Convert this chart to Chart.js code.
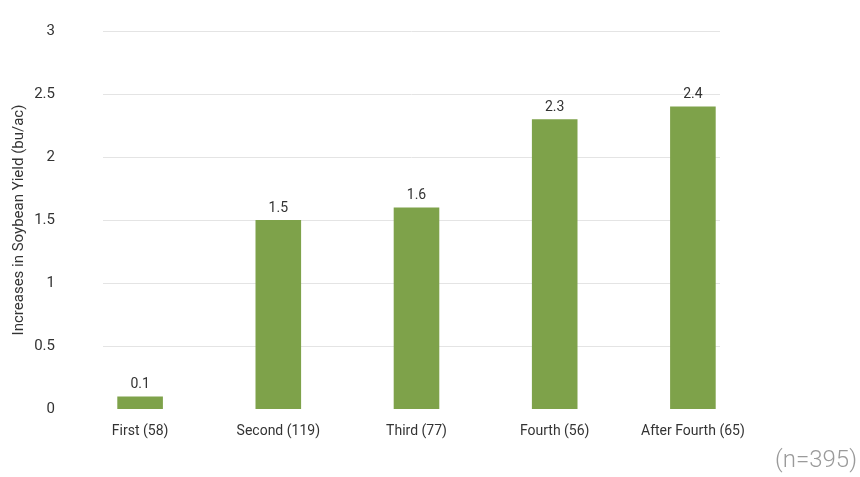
<!DOCTYPE html>
<html>
<head>
<meta charset="utf-8">
<script src="https://cdn.jsdelivr.net/npm/chart.js@4.4.1/dist/chart.umd.min.js"></script>
<style>
  html, body { margin: 0; padding: 0; background: #fff; }
  #wrap { position: relative; width: 860px; height: 477px; }
  #note { position: absolute; right: 3px; top: 445px; font: 300 24px Roboto, sans-serif; color: #9a9a9a; }
</style>
</head>
<body>
<div id="wrap">
  <canvas id="yieldChart" width="860" height="477"></canvas>
  <div id="note">(n=395)</div>
</div>
<script>
const categories = ['First (58)', 'Second (119)', 'Third (77)', 'Fourth (56)', 'After Fourth (65)'];
const yieldGain = [0.1, 1.5, 1.6, 2.3, 2.4];
const yTicks = [0, 0.5, 1, 1.5, 2, 2.5, 3];

const barColor = '#7ea24a';
const textColor = '#333';

// light horizontal rules, shorter than the plot area
const shortGrid = {
  id: 'shortGrid',
  beforeDatasetsDraw(chart) {
    const { ctx, scales: { y } } = chart;
    ctx.save();
    ctx.strokeStyle = '#e4e4e4';
    ctx.lineWidth = 1;
    yTicks.filter((v) => v > 0).forEach((v) => {
      const py = Math.round(y.getPixelForValue(v)) + 0.5;
      ctx.beginPath();
      ctx.moveTo(103, py);
      ctx.lineTo(720, py);
      ctx.stroke();
    });
    ctx.restore();
  }
};

// value printed over each bar
const barValues = {
  id: 'barValues',
  afterDatasetsDraw(chart) {
    const { ctx } = chart;
    const meta = chart.getDatasetMeta(0);
    ctx.save();
    ctx.font = '14px Roboto, sans-serif';
    ctx.fillStyle = textColor;
    ctx.textAlign = 'center';
    ctx.textBaseline = 'bottom';
    meta.data.forEach((bar, i) => {
      ctx.fillText(String(yieldGain[i]), bar.x, bar.y - 5);
    });
    ctx.restore();
  }
};

new Chart(document.getElementById('yieldChart'), {
  type: 'bar',
  data: {
    labels: categories,
    datasets: [{ data: yieldGain, backgroundColor: barColor, categoryPercentage: 1, barPercentage: 0.33 }]
  },
  options: {
    responsive: false,
    animation: false,
    layout: { padding: { top: 31, right: 98, bottom: 0, left: 0 } },
    plugins: { legend: { display: false }, tooltip: { enabled: false } },
    scales: {
      x: {
        grid: { display: false, drawTicks: false },
        border: { display: false },
        ticks: { color: textColor, font: { family: 'Roboto', size: 14 }, padding: 14, maxRotation: 0 },
        afterFit(scale) { scale.height = 68; }
      },
      y: {
        min: 0,
        max: 3,
        afterBuildTicks(scale) { scale.ticks = yTicks.map((value) => ({ value })); },
        grid: { display: false, drawTicks: false },
        border: { display: false },
        ticks: {
          color: textColor,
          font: { family: 'Roboto', size: 15 },
          padding: 16,
          callback: (v) => String(v)
        },
        title: {
          display: true,
          text: 'Increases in Soybean Yield (bu/ac)',
          color: textColor,
          font: { family: 'Roboto', size: 15 },
          padding: { top: 10, bottom: 0 }
        },
        afterFit(scale) { scale.width = 71; }
      }
    }
  },
  plugins: [shortGrid, barValues]
});
</script>
</body>
</html>
